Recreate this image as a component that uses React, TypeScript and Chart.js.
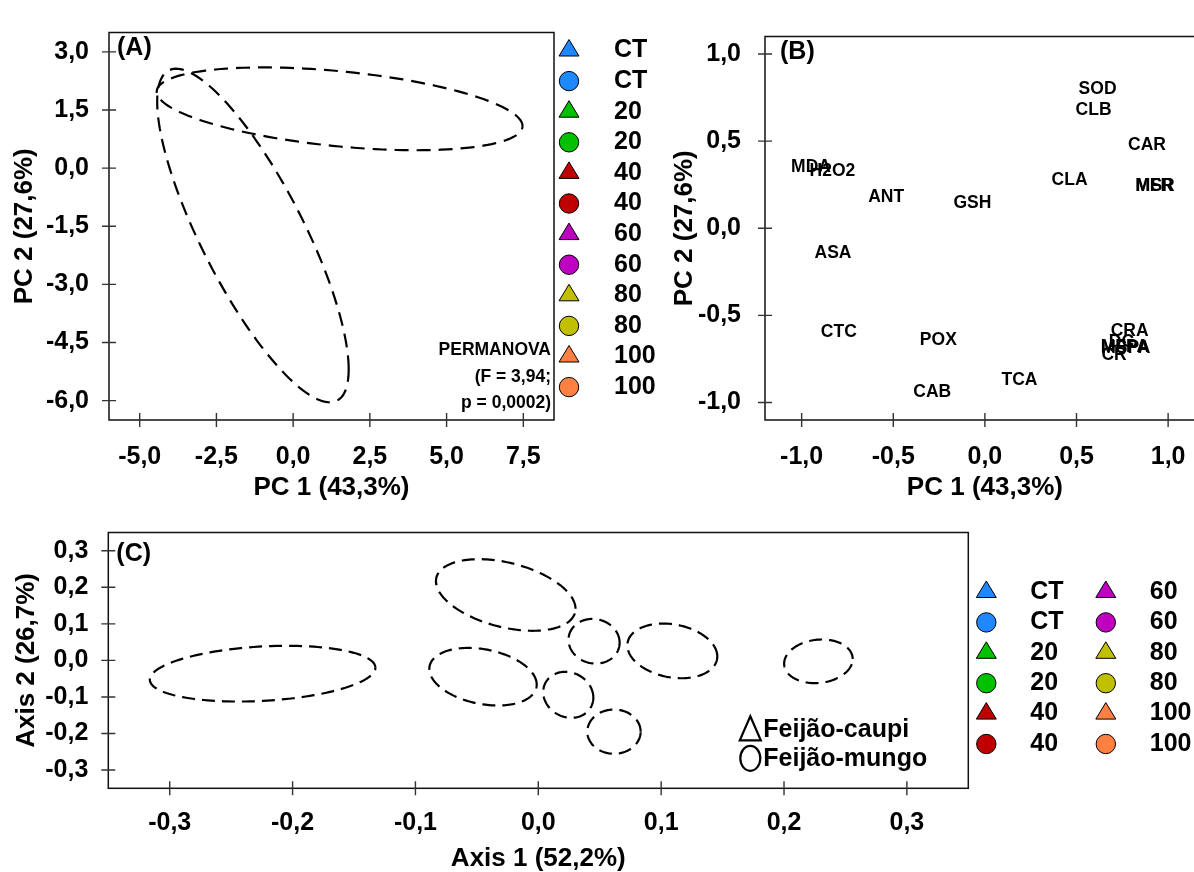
import React, { useEffect, useRef } from "react";
import { Chart, registerables } from "chart.js";

Chart.register(...registerables);

const FONT = "'Liberation Sans', Arial, Helvetica, sans-serif";

// ---------- shared treatment legend ----------
const groupLabels = ["CT", "CT", "20", "20", "40", "40", "60", "60", "80", "80", "100", "100"];
const groupShapes = ["triangle", "circle", "triangle", "circle", "triangle", "circle", "triangle", "circle", "triangle", "circle", "triangle", "circle"];
const groupColors = ["#1E88FF", "#1E88FF", "#00C000", "#00C000", "#C00000", "#C00000", "#C000C0", "#C000C0", "#C0C000", "#C0C000", "#FF8040", "#FF8040"];

// ---------- Panel A (PCA scores) ----------
const aTicksX = [-5, -2.5, 0, 2.5, 5, 7.5];
const aTicksY = [3, 1.5, 0, -1.5, -3, -4.5, -6];
const aEllipseCx = [1.515, -1.31];
const aEllipseCy = [1.53, -1.739];
const aEllipseAx = [5.96, 3.12];
const aEllipseAy = [-0.444, -3.453];
const aEllipseBy = [0.972, 2.57];
const permanovaText = ["PERMANOVA", "(F = 3,94;", "p = 0,0002)"];

// ---------- Panel B (PCA loadings) ----------
const bLabels = ["SOD", "CLB", "CAR", "CLA", "MFR", "MSR", "MDA", "H2O2", "ANT", "GSH", "ASA", "CTC", "POX", "CAB", "TCA", "CRA", "DC", "MFPA", "MSPA", "CR"];
const bX = [0.615, 0.593, 0.885, 0.462, 0.924, 0.930, -0.949, -0.832, -0.539, -0.068, -0.829, -0.797, -0.254, -0.287, 0.189, 0.79, 0.745, 0.764, 0.769, 0.705];
const bY = [0.796, 0.677, 0.474, 0.275, 0.244, 0.240, 0.351, 0.326, 0.181, 0.144, -0.145, -0.594, -0.644, -0.941, -0.871, -0.59, -0.652, -0.682, -0.686, -0.73];
const bTicks = [-1, -0.5, 0, 0.5, 1];

// ---------- Panel C (PCoA) ----------
const cTicks = [-0.3, -0.2, -0.1, 0, 0.1, 0.2, 0.3];
const cEllipseCx = [-0.2244, -0.0265, 0.0454, 0.1091, 0.228, -0.045, 0.0244, 0.0616];
const cEllipseCy = [-0.0363, 0.179, 0.0524, 0.026, -0.0025, -0.0446, -0.0942, -0.195];
const cEllipseAx = [0.0918, 0.0568, 0.0208, 0.0366, 0.0279, 0.0437, 0.0204, 0.0217];
const cEllipseAy = [0.0164, -0.0378, -0.004, -0.0151, 0.0063, -0.0214, -0.0076, 0];
const cEllipseBy = [0.0745, 0.0904, 0.061, 0.0733, 0.0594, 0.0758, 0.0625, 0.0605];
const speciesLabels = ["Feijão-caupi", "Feijão-mungo"];
const speciesShapes = ["triangle", "circle"];

const panelLetters = ["(A)", "(B)", "(C)"];

function ellipseOutline(cx: number, cy: number, ax: number, ay: number, by: number) {
  const pts: { x: number; y: number }[] = [];
  const n = 160;
  for (let k = 0; k <= n; k++) {
    const t = (k / n) * Math.PI * 2;
    pts.push({ x: cx + ax * Math.cos(t), y: cy + ay * Math.cos(t) + by * Math.sin(t) });
  }
  return pts;
}

function ellipseDatasets(cx: number[], cy: number[], ax: number[], ay: number[], by: number[], dash: number[]) {
  return cx.map((_, i) => ({
    data: ellipseOutline(cx[i], cy[i], ax[i], ay[i], by[i]),
    showLine: true,
    pointRadius: 0,
    borderColor: "#000",
    borderWidth: 2.2,
    borderDash: dash,
    fill: false,
    tension: 0,
  }));
}

function axis(min: number, max: number, ticks: number[], title: string, size: number, tickPad: number, titlePad: number, horizontal: boolean) {
  return {
    type: "linear",
    min,
    max,
    afterBuildTicks: (s: any) => {
      s.ticks = ticks.map((v) => ({ value: v }));
    },
    afterFit: (s: any) => {
      if (horizontal) s.height = size;
      else s.width = size;
    },
    grid: { display: false, drawTicks: false, tickLength: 0 },
    border: { display: false },
    ticks: {
      autoSkip: false,
      maxRotation: 0,
      padding: tickPad,
      color: "#000",
      font: { family: FONT, size: 25, weight: "bold", lineHeight: 1 },
      callback: (v: any) => Number(v).toFixed(1).replace(".", ","),
    },
    title: {
      display: true,
      text: title,
      color: "#000",
      font: { family: FONT, size: 26, weight: "bold", lineHeight: 1 },
      padding: horizontal ? { top: 0, bottom: titlePad } : { top: titlePad, bottom: 0 },
    },
  };
}

const frameTicks = {
  id: "frameTicks",
  afterDraw(chart: any) {
    const { ctx, chartArea: a, scales } = chart;
    ctx.save();
    ctx.strokeStyle = "#111";
    ctx.lineWidth = 1.5;
    ctx.strokeRect(a.left, a.top, a.right - a.left, a.bottom - a.top);
    ctx.strokeStyle = "#333";
    ctx.lineWidth = 1.4;
    ctx.beginPath();
    scales.x.ticks.forEach((t: any) => {
      const px = scales.x.getPixelForValue(t.value);
      ctx.moveTo(px, a.bottom - 7);
      ctx.lineTo(px, a.bottom + 7);
    });
    scales.y.ticks.forEach((t: any) => {
      const py = scales.y.getPixelForValue(t.value);
      ctx.moveTo(a.left - 7, py);
      ctx.lineTo(a.left + 7, py);
    });
    ctx.stroke();
    ctx.restore();
  },
};

function drawMarker(ctx: CanvasRenderingContext2D, shape: string, x: number, y: number, fill: string) {
  ctx.beginPath();
  if (shape === "triangle") {
    ctx.moveTo(x, y - 11);
    ctx.lineTo(x + 10, y + 5.5);
    ctx.lineTo(x - 10, y + 5.5);
    ctx.closePath();
  } else {
    ctx.arc(x, y, 9.7, 0, Math.PI * 2);
  }
  ctx.fillStyle = fill;
  ctx.fill();
  ctx.strokeStyle = "#000";
  ctx.lineWidth = 1;
  ctx.stroke();
}

function baseOptions(padding: any, scales: any, extras: any) {
  return {
    responsive: false,
    animation: false,
    devicePixelRatio: 1,
    events: [],
    layout: { padding },
    plugins: { legend: { display: false }, tooltip: { enabled: false } },
    scales,
  };
}

function makeA() {
  const extras = {
    id: "extrasA",
    afterDraw(chart: any) {
      const { ctx, chartArea: a } = chart;
      ctx.save();
      ctx.fillStyle = "#000";
      ctx.textBaseline = "middle";
      ctx.textAlign = "left";
      ctx.font = `bold 25px ${FONT}`;
      ctx.fillText(panelLetters[0], a.left + 8, a.top + 16);
      ctx.font = `bold 17.5px ${FONT}`;
      ctx.textAlign = "right";
      permanovaText.forEach((s, i) => ctx.fillText(s, a.right - 3, a.bottom - 70 + i * 26.7));
      ctx.textAlign = "left";
      ctx.font = `bold 25px ${FONT}`;
      groupLabels.forEach((s, i) => {
        const y = a.top + 18 + i * 30.6;
        drawMarker(ctx, groupShapes[i], a.right + 15, y, groupColors[i]);
        ctx.fillStyle = "#000";
        ctx.fillText(s, a.right + 60, y);
      });
      ctx.restore();
    },
  };
  return {
    type: "scatter",
    data: { datasets: ellipseDatasets(aEllipseCx, aEllipseCy, aEllipseAx, aEllipseAy, aEllipseBy, [14, 8]) },
    options: baseOptions({ top: 15, right: 106, bottom: 0, left: 0 }, {
      x: axis(-6, 8.5, aTicksX, "PC 1 (43,3%)", 85, 24.5, 4, true),
      y: axis(-6.5, 3.5, aTicksY, "PC 2 (27,6%)", 109, 20, 12, false),
    }, null),
    plugins: [frameTicks, extras],
  };
}

function makeB() {
  const extras = {
    id: "extrasB",
    afterDraw(chart: any) {
      const { ctx, chartArea: a, scales } = chart;
      ctx.save();
      ctx.fillStyle = "#000";
      ctx.textBaseline = "middle";
      ctx.textAlign = "left";
      ctx.font = `bold 25px ${FONT}`;
      ctx.fillText(panelLetters[1], a.left + 15, a.top + 16);
      ctx.font = `bold 17.5px ${FONT}`;
      ctx.textAlign = "center";
      bLabels.forEach((s, i) => {
        ctx.fillText(s, scales.x.getPixelForValue(bX[i]), scales.y.getPixelForValue(bY[i]));
      });
      ctx.restore();
    },
  };
  return {
    type: "scatter",
    data: {
      datasets: [
        { data: bX.map((x, i) => ({ x, y: bY[i] })), pointRadius: 0, showLine: false },
      ],
    },
    options: baseOptions({ top: 15, right: 0, bottom: 0, left: 0 }, {
      x: axis(-1.2, 1.2, bTicks, "PC 1 (43,3%)", 85, 24.5, 4, true),
      y: axis(-1.1, 1.1, bTicks, "PC 2 (27,6%)", 105, 24, 11.5, false),
    }, null),
    plugins: [frameTicks, extras],
  };
}

function makeC() {
  const extras = {
    id: "extrasC",
    afterDraw(chart: any) {
      const { ctx, chartArea: a } = chart;
      ctx.save();
      ctx.fillStyle = "#000";
      ctx.textBaseline = "middle";
      ctx.textAlign = "left";
      ctx.font = `bold 25px ${FONT}`;
      ctx.fillText(panelLetters[2], a.left + 8, a.top + 22);
      // species legend (open symbols)
      speciesLabels.forEach((s, i) => {
        const y = a.bottom - 59 + i * 29;
        const x = a.right - 218;
        ctx.beginPath();
        if (speciesShapes[i] === "triangle") {
          ctx.moveTo(x, y - 13);
          ctx.lineTo(x + 10.5, y + 11);
          ctx.lineTo(x - 10.5, y + 11);
          ctx.closePath();
        } else {
          ctx.ellipse(x, y, 10, 12.5, 0, 0, Math.PI * 2);
        }
        ctx.strokeStyle = "#000";
        ctx.lineWidth = 2.2;
        ctx.stroke();
        ctx.fillStyle = "#000";
        ctx.font = `bold 25px ${FONT}`;
        ctx.fillText(s, x + 13, y + 1);
      });
      // treatment legend, two columns
      groupLabels.forEach((s, i) => {
        const col = Math.floor(i / 6);
        const row = i % 6;
        const y = a.top + 59.5 + row * 30.4;
        const mx = a.right + 18 + col * 119.5;
        drawMarker(ctx, groupShapes[i], mx, y, groupColors[i]);
        ctx.fillStyle = "#000";
        ctx.fillText(s, mx + 44, y);
      });
      ctx.restore();
    },
  };
  return {
    type: "scatter",
    data: { datasets: ellipseDatasets(cEllipseCx, cEllipseCy, cEllipseAx, cEllipseAy, cEllipseBy, [13, 7]) },
    options: baseOptions({ top: 10.7, right: 225.7, bottom: 0, left: 0 }, {
      x: axis(-0.35, 0.35, cTicks, "Axis 1 (52,2%)", 83.7, 22.5, 0, true),
      y: axis(-0.35, 0.35, cTicks, "Axis 2 (26,7%)", 108.3, 20, 13.7, false),
    }, null),
    plugins: [frameTicks, extras],
  };
}

function ChartBox(props: { left: number; top: number; width: number; height: number; make: () => any }) {
  const ref = useRef<HTMLCanvasElement>(null);
  useEffect(() => {
    const chart = new Chart(ref.current as HTMLCanvasElement, props.make());
    return () => chart.destroy();
  }, []);
  return (
    <canvas
      ref={ref}
      width={props.width}
      height={props.height}
      style={{ position: "absolute", left: props.left, top: props.top, width: props.width, height: props.height }}
    />
  );
}

export default function App() {
  return (
    <div style={{ position: "fixed", left: 0, top: 0, width: 1194, height: 872, overflow: "hidden", background: "#fff" }}>
      <ChartBox left={0} top={0} width={660} height={505} make={makeA} />
      <ChartBox left={660} top={0} width={550} height={505} make={makeB} />
      <ChartBox left={0} top={500} width={1194} height={372} make={makeC} />
    </div>
  );
}
